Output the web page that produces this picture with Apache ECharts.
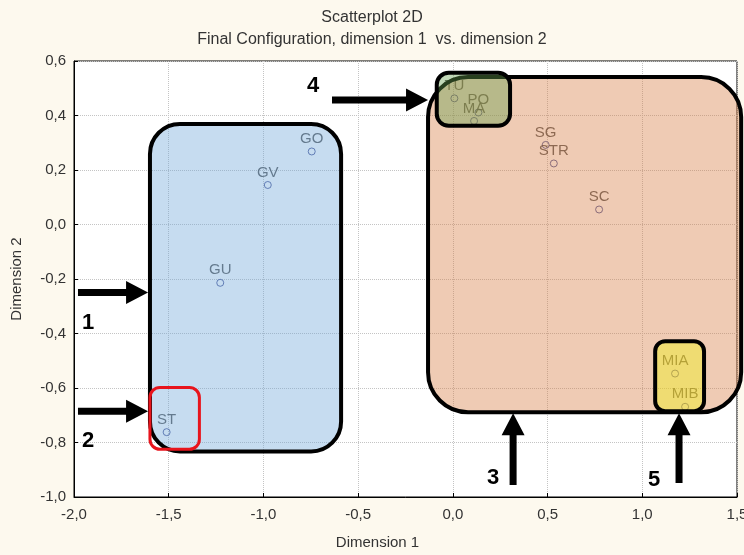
<!DOCTYPE html>
<html>
<head>
<meta charset="utf-8">
<script src="https://cdn.jsdelivr.net/npm/echarts@6/dist/echarts.min.js"></script>
<style>
html,body{margin:0;padding:0;background:#fdf9ee;}
#chart{width:744px;height:555px;}
</style>
</head>
<body>
<div id="chart"></div>
<script>
// ---- data ----
const names = ['GO','GV','GU','ST','TU','PO','MA','SG','STR','SC','MIA','MIB'];
const dim1  = [-0.745,-0.977,-1.228,-1.511, 0.008, 0.135, 0.112, 0.490, 0.533, 0.772, 1.173, 1.226];
const dim2  = [ 0.268, 0.145,-0.214,-0.762, 0.463, 0.411, 0.380, 0.292, 0.224, 0.055,-0.547,-0.669];
const xTicks = [-2.0,-1.5,-1.0,-0.5,0.0,0.5,1.0,1.5];
const yTicks = [-1.0,-0.8,-0.6,-0.4,-0.2,0.0,0.2,0.4,0.6];

// annotation regions in data units: [x1, yTop, x2, yBottom]
const regionBounds = [
  [-1.599, 0.369, -0.590, -0.833],  // blue group
  [-1.599,-0.598, -1.338, -0.825],  // ST (red)
  [-0.131, 0.541,  1.522, -0.689],  // orange group
  [-0.085, 0.557,  0.302,  0.362],  // TU/PO/MA
  [ 1.068,-0.428,  1.326, -0.685]   // MIA/MIB
];
// arrows in data units: [tailX, tailY, tipX, tipY, labelX, labelY]
const arrowLabels = ['1','2','4','3','5'];
const arrowCoords = [
  [-1.979,-0.2495,-1.609,-0.2495,-1.926,-0.363],
  [-1.979,-0.685, -1.609,-0.685, -1.926,-0.795],
  [-0.638, 0.457, -0.131, 0.457, -0.738, 0.508],
  [ 0.318,-0.956,  0.318,-0.693,  0.212,-0.931],
  [ 1.194,-0.949,  1.194,-0.693,  1.062,-0.938]
];

// ---- styles ----
const regionStyles = [
  {fill:'rgba(112,168,218,0.4)', stroke:'#000', lw:4, r:30},
  {fill:'rgba(0,0,0,0)', stroke:'#e8141c', lw:3, r:10},
  {fill:'rgba(215,125,67,0.4)', stroke:'#000', lw:4, r:40},
  {fill:'rgba(101,158,75,0.4)', stroke:'#000', lw:4, r:12},
  {fill:'rgba(241,245,15,0.4)', stroke:'#000', lw:4, r:10}
];

const fmt = v => v.toFixed(1).replace('.', ',');
const font = '"Liberation Sans", Arial, sans-serif';

const chart = echarts.init(document.getElementById('chart'));
chart.setOption({
  backgroundColor: '#fdf9ee',
  animation: false,
  title: {
    text: 'Scatterplot 2D',
    subtext: 'Final Configuration, dimension 1  vs. dimension 2',
    left: 'center',
    top: 5,
    itemGap: 6,
    textStyle: {fontFamily: font, fontSize: 16, fontWeight: 'normal', color: '#333'},
    subtextStyle: {fontFamily: font, fontSize: 16, color: '#333'}
  },
  grid: {left: 74, right: 7, top: 61, bottom: 58, outerBoundsMode: 'none', containLabel: false,
         show: true, backgroundColor: '#fff', borderColor: '#000', borderWidth: 1},
  xAxis: {
    type: 'value', min: xTicks[0], max: xTicks[xTicks.length-1], interval: 0.5,
    name: 'Dimension 1', nameLocation: 'middle', nameGap: 38,
    nameTextStyle: {fontFamily: font, fontSize: 15, color: '#333', padding: [0, 56, 0, 0]},
    axisLine: {onZero: false, lineStyle: {color: '#000'}},
    axisTick: {inside: true, length: 4, lineStyle: {color: '#000'}},
    axisLabel: {formatter: fmt, fontFamily: font, fontSize: 15, color: '#333', margin: 10},
    splitLine: {lineStyle: {type: 'dotted', color: '#c4c4c4'}}
  },
  yAxis: {
    type: 'value', min: yTicks[0], max: yTicks[yTicks.length-1], interval: 0.2,
    name: 'Dimension 2', nameLocation: 'middle', nameGap: 50,
    nameTextStyle: {fontFamily: font, fontSize: 15, color: '#333'},
    axisLine: {onZero: false, lineStyle: {color: '#000'}},
    axisTick: {inside: true, length: 4, lineStyle: {color: '#000'}},
    axisLabel: {formatter: fmt, fontFamily: font, fontSize: 15, color: '#333', margin: 8},
    splitLine: {lineStyle: {type: 'dotted', color: '#c4c4c4'}}
  },
  series: [
    {
      type: 'scatter', z: 2,
      data: names.map((n, i) => ({name: n, value: [dim1[i], dim2[i]]})),
      symbol: 'circle', symbolSize: 7,
      itemStyle: {color: 'rgba(255,255,255,0)', borderColor: '#2e3b86', borderWidth: 1},
      label: {show: true, position: 'top', distance: 1, formatter: '{b}', fontFamily: font, fontSize: 15, color: '#333'}
    },
    {
      type: 'custom', z: 3, clip: false, silent: true,
      data: regionBounds,
      renderItem: (params, api) => {
        const i = params.dataIndex;
        const b = regionBounds[i], s = regionStyles[i];
        const p1 = api.coord([b[0], b[1]]), p2 = api.coord([b[2], b[3]]);
        return {
          type: 'rect',
          shape: {x: p1[0], y: p1[1], width: p2[0]-p1[0], height: p2[1]-p1[1], r: s.r},
          style: {fill: s.fill, stroke: s.stroke, lineWidth: s.lw}
        };
      }
    },
    {
      type: 'custom', z: 4, clip: false, silent: true,
      data: arrowCoords,
      renderItem: (params, api) => {
        const i = params.dataIndex;
        const a = arrowCoords[i];
        const t = api.coord([a[0], a[1]]), h = api.coord([a[2], a[3]]), l = api.coord([a[4], a[5]]);
        const dx = h[0]-t[0], dy = h[1]-t[1], len = Math.hypot(dx, dy);
        const ux = dx/len, uy = dy/len, nx = -uy, ny = ux;
        const headL = 22, headW = 11.5, shaft = 3.5;
        const bx = h[0]-ux*headL, by = h[1]-uy*headL;
        const pts = [
          [t[0]+nx*shaft, t[1]+ny*shaft],
          [bx+nx*shaft, by+ny*shaft],
          [bx+nx*headW, by+ny*headW],
          [h[0], h[1]],
          [bx-nx*headW, by-ny*headW],
          [bx-nx*shaft, by-ny*shaft],
          [t[0]-nx*shaft, t[1]-ny*shaft]
        ];
        return {
          type: 'group',
          children: [
            {type: 'polygon', shape: {points: pts}, style: {fill: '#000'}},
            {type: 'text', x: l[0], y: l[1], style: {text: arrowLabels[i], fill: '#000', font: 'bold 22px "Liberation Sans", Arial, sans-serif', align: 'center', verticalAlign: 'middle'}}
          ]
        };
      }
    }
  ]
});
</script>
</body>
</html>
